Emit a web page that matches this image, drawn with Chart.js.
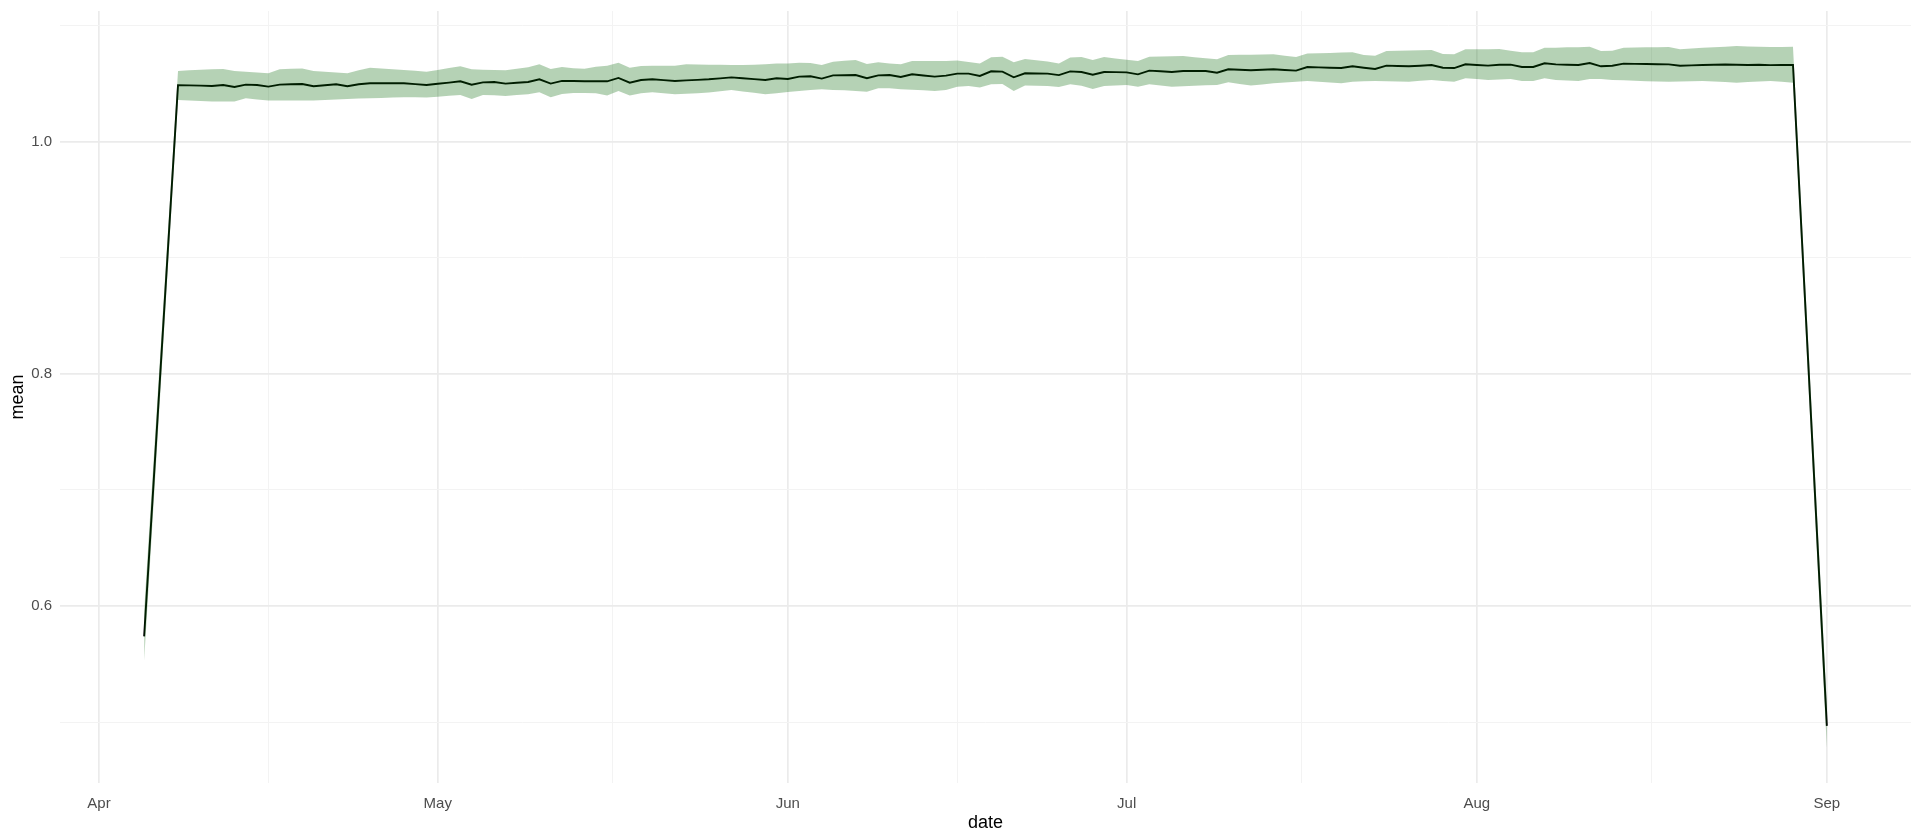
<!DOCTYPE html>
<html>
<head>
<meta charset="utf-8">
<script src="https://cdn.jsdelivr.net/npm/chart.js@4.4.1/dist/chart.umd.min.js"></script>
<style>
  html, body { margin: 0; padding: 0; background: #ffffff; }
  #wrap { width: 1920px; height: 840px; position: relative; }
</style>
</head>
<body>
<div id="wrap"><canvas id="c"></canvas></div>
<script>
// ---- Data ----
const dates = [
  "04-05",
  "04-08","04-09","04-10","04-11","04-12","04-13","04-14","04-15","04-16","04-17","04-18","04-19",
  "04-20","04-21","04-22","04-23","04-24","04-25","04-26","04-27","04-28","04-29","04-30",
  "05-01","05-02","05-03","05-04","05-05","05-06","05-07","05-08","05-09","05-10","05-11","05-12",
  "05-13","05-14","05-15","05-16","05-17","05-18","05-19","05-20","05-21","05-22","05-23","05-24",
  "05-25","05-26","05-27","05-28","05-29","05-30","05-31",
  "06-01","06-02","06-03","06-04","06-05","06-06","06-07","06-08","06-09","06-10","06-11","06-12",
  "06-13","06-14","06-15","06-16","06-17","06-18","06-19","06-20","06-21","06-22","06-23","06-24",
  "06-25","06-26","06-27","06-28","06-29","06-30",
  "07-01","07-02","07-03","07-04","07-05","07-06","07-07","07-08","07-09","07-10","07-11","07-12",
  "07-13","07-14","07-15","07-16","07-17","07-18","07-19","07-20","07-21","07-22","07-23","07-24",
  "07-25","07-26","07-27","07-28","07-29","07-30","07-31",
  "08-01","08-02","08-03","08-04","08-05","08-06","08-07","08-08","08-09","08-10","08-11","08-12",
  "08-13","08-14","08-15","08-16","08-17","08-18","08-19","08-20","08-21","08-22","08-23","08-24",
  "08-25","08-26","08-27","08-28","08-29",
  "09-01"
];

const meanValues = [
  0.574,
  1.0484,1.0483,1.0481,1.0478,1.0486,1.0469,1.0489,1.0486,1.0472,1.0489,1.0492,1.0495,
  1.0475,1.0484,1.0492,1.0475,1.0492,1.0501,1.0501,1.0501,1.0501,1.0494,1.0486,
  1.0497,1.0507,1.0518,1.0489,1.0509,1.0512,1.0498,1.0505,1.0512,1.0535,1.0498,1.0521,
  1.0520,1.0519,1.0518,1.0518,1.0547,1.0506,1.0529,1.0535,1.0528,1.0521,1.0526,1.0530,
  1.0535,1.0543,1.0552,1.0544,1.0537,1.0529,1.0544,
  1.0538,1.0558,1.0561,1.0541,1.0569,1.0570,1.0572,1.0544,1.0569,1.0572,1.0555,1.0578,
  1.0568,1.0558,1.0567,1.0584,1.0584,1.0564,1.0604,1.0601,1.0552,1.0587,1.0585,1.0584,
  1.0571,1.0603,1.0598,1.0575,1.0598,1.0597,
  1.0595,1.0578,1.0610,1.0604,1.0598,1.0607,1.0607,1.0607,1.0592,1.0621,1.0617,1.0613,
  1.0617,1.0621,1.0615,1.0610,1.0641,1.0638,1.0635,1.0632,1.0647,1.0635,1.0624,1.0653,
  1.0650,1.0647,1.0652,1.0658,1.0635,1.0632,1.0664,
  1.0658,1.0653,1.0661,1.0661,1.0641,1.0641,1.0673,1.0664,1.0661,1.0658,1.0675,1.0647,
  1.0652,1.0670,1.0668,1.0667,1.0665,1.0664,1.0652,1.0655,1.0658,1.0660,1.0662,1.0660,
  1.0658,1.0660,1.0657,1.0658,1.0658,
  0.497
];

const upperValues = [
  0.596,
  1.0607,1.0612,1.0618,1.0622,1.0624,1.0607,1.0600,1.0594,1.0587,1.0621,1.0625,1.0629,
  1.0607,1.0600,1.0594,1.0587,1.0612,1.0635,1.0628,1.0622,1.0615,1.0608,1.0601,
  1.0616,1.0632,1.0647,1.0621,1.0617,1.0615,1.0612,1.0625,1.0638,1.0664,1.0624,1.0641,
  1.0630,1.0626,1.0644,1.0652,1.0678,1.0635,1.0650,1.0651,1.0652,1.0652,1.0664,1.0663,
  1.0661,1.0660,1.0659,1.0658,1.0661,1.0664,1.0672,
  1.0672,1.0678,1.0676,1.0658,1.0687,1.0694,1.0701,1.0667,1.0681,1.0672,1.0664,1.0692,
  1.0692,1.0692,1.0692,1.0698,1.0685,1.0672,1.0724,1.0730,1.0681,1.0710,1.0700,1.0689,
  1.0672,1.0722,1.0727,1.0701,1.0727,1.0715,
  1.0703,1.0692,1.0730,1.0732,1.0733,1.0735,1.0726,1.0716,1.0707,1.0744,1.0746,1.0747,
  1.0749,1.0750,1.0738,1.0727,1.0758,1.0760,1.0762,1.0765,1.0767,1.0744,1.0738,1.0778,
  1.0780,1.0782,1.0785,1.0787,1.0753,1.0750,1.0793,
  1.0794,1.0794,1.0795,1.0781,1.0767,1.0767,1.0807,1.0807,1.0810,1.0812,1.0815,1.0778,
  1.0781,1.0807,1.0809,1.0810,1.0812,1.0813,1.0793,1.0800,1.0807,1.0812,1.0816,1.0821,
  1.0818,1.0816,1.0813,1.0814,1.0815,
  0.516
];

const lowerValues = [
  0.553,
  1.0358,1.0353,1.0348,1.0343,1.0343,1.0343,1.0372,1.0362,1.0352,1.0352,1.0352,1.0352,
  1.0352,1.0357,1.0361,1.0366,1.0369,1.0372,1.0375,1.0378,1.0381,1.0380,1.0378,
  1.0386,1.0393,1.0401,1.0366,1.0401,1.0397,1.0392,1.0399,1.0406,1.0423,1.0381,1.0409,
  1.0418,1.0417,1.0415,1.0395,1.0435,1.0395,1.0415,1.0423,1.0415,1.0406,1.0411,1.0416,
  1.0421,1.0432,1.0444,1.0431,1.0419,1.0406,1.0415,
  1.0425,1.0435,1.0442,1.0449,1.0444,1.0440,1.0435,1.0429,1.0458,1.0458,1.0449,1.0445,
  1.0440,1.0435,1.0444,1.0472,1.0478,1.0464,1.0492,1.0495,1.0435,1.0481,1.0480,1.0478,
  1.0469,1.0493,1.0480,1.0452,1.0478,1.0482,
  1.0486,1.0472,1.0492,1.0482,1.0472,1.0476,1.0479,1.0483,1.0486,1.0509,1.0495,1.0481,
  1.0491,1.0501,1.0508,1.0514,1.0521,1.0514,1.0508,1.0501,1.0515,1.0518,1.0521,1.0519,
  1.0517,1.0515,1.0522,1.0529,1.0521,1.0515,1.0544,
  1.0537,1.0529,1.0534,1.0538,1.0521,1.0521,1.0544,1.0529,1.0525,1.0521,1.0538,1.0538,
  1.0529,1.0526,1.0522,1.0519,1.0517,1.0515,1.0517,1.0519,1.0521,1.0516,1.0511,1.0506,
  1.0511,1.0516,1.0521,1.0514,1.0506,
  0.478
];

const monthTickDates = ["04-01","05-01","06-01","07-01","08-01","09-01"];
const monthTickLabels = ["Apr","May","Jun","Jul","Aug","Sep"];
const yMajorTicks = [0.6, 0.8, 1.0];
const yMinorTicks = [0.5, 0.7, 0.9, 1.1];

// ---- helpers ----
function dayNum(s) {
  const [m, d] = s.split('-').map(Number);
  return (Date.UTC(2000, m - 1, d) - Date.UTC(2000, 3, 1)) / 864e5;
}
const xs = dates.map(dayNum);
const majorX = monthTickDates.map(dayNum);
const minorX = [];
for (let i = 0; i < majorX.length - 1; i++) minorX.push((majorX[i] + majorX[i + 1]) / 2);
const allX = majorX.concat(minorX).sort((a, b) => a - b);
const allY = yMajorTicks.concat(yMinorTicks).sort((a, b) => a - b);

const dataRangeX = [Math.min(...xs), Math.max(...xs)];
const spanX = dataRangeX[1] - dataRangeX[0];
const yMin = Math.min(...lowerValues), yMax = Math.max(...upperValues);
const spanY = yMax - yMin;

const isMajorX = v => majorX.some(m => Math.abs(m - v) < 1e-6);
const isMajorY = v => yMajorTicks.some(m => Math.abs(m - v) < 1e-6);

const pts = arr => xs.map((x, i) => ({ x: x, y: arr[i] }));
const FONT = "'Liberation Sans', Arial, Helvetica, sans-serif";

new Chart(document.getElementById('c'), {
  type: 'line',
  data: {
    datasets: [
      { label: 'lower', data: pts(lowerValues), borderWidth: 0, borderColor: 'rgba(0,0,0,0)',
        pointRadius: 0, fill: false, order: 0 },
      { label: 'upper', data: pts(upperValues), borderWidth: 0, borderColor: 'rgba(0,0,0,0)',
        pointRadius: 0, fill: { target: 0 }, backgroundColor: 'rgba(0,100,0,0.29)', order: 0 },
      { label: 'mean', data: pts(meanValues), borderColor: '#000000', borderWidth: 1.9,
        pointRadius: 0, fill: false, tension: 0, order: 1 }
    ]
  },
  options: {
    responsive: true,
    maintainAspectRatio: false,
    animation: false,
    parsing: false,
    layout: { padding: { left: 0, right: 9, top: 11, bottom: 0 } },
    plugins: { legend: { display: false }, tooltip: { enabled: false } },
    scales: {
      x: {
        type: 'linear',
        min: dataRangeX[0] - 0.05 * spanX,
        max: dataRangeX[1] + 0.05 * spanX,
        border: { display: false },
        grid: {
          drawTicks: false,
          color: c => isMajorX(c.tick.value) ? '#ebebeb' : '#f3f3f3',
          lineWidth: c => isMajorX(c.tick.value) ? 1.7 : 1
        },
        afterBuildTicks: axis => { axis.ticks = allX.map(v => ({ value: v })); },
        afterFit: axis => { axis.height = 57; axis.paddingLeft = 0; axis.paddingRight = 0; },
        ticks: {
          autoSkip: false, maxRotation: 0, padding: 12,
          color: '#4d4d4d', font: { family: FONT, size: 15 },
          callback: v => { const i = majorX.findIndex(m => Math.abs(m - v) < 1e-6); return i >= 0 ? monthTickLabels[i] : ''; }
        },
        title: { display: true, text: 'date', color: '#000000',
                 font: { family: FONT, size: 18 }, padding: { top: 0, bottom: 6 } }
      },
      y: {
        type: 'linear',
        min: yMin - 0.05 * spanY,
        max: yMax + 0.05 * spanY,
        border: { display: false },
        grid: {
          drawTicks: false,
          color: c => isMajorY(c.tick.value) ? '#ebebeb' : '#f3f3f3',
          lineWidth: c => isMajorY(c.tick.value) ? 1.7 : 1
        },
        afterBuildTicks: axis => { axis.ticks = allY.map(v => ({ value: v })); },
        afterFit: axis => { axis.width = 60; axis.paddingTop = 0; axis.paddingBottom = 0; },
        ticks: {
          autoSkip: false, padding: 8,
          color: '#4d4d4d', font: { family: FONT, size: 15 },
          callback: v => isMajorY(v) ? v.toFixed(1) : ''
        },
        title: { display: true, text: 'mean', color: '#000000',
                 font: { family: FONT, size: 18 }, padding: { top: 7, bottom: 0 } }
      }
    }
  }
});
</script>
</body>
</html>
